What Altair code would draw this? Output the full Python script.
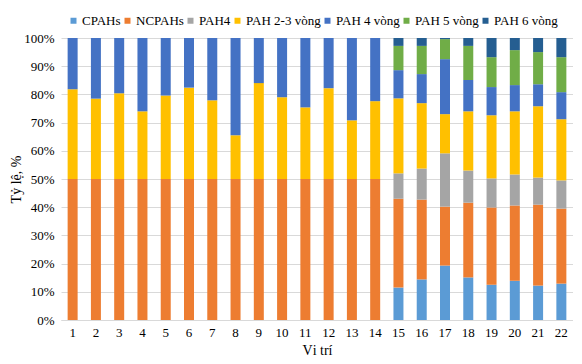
import altair as alt
import pandas as pd

positions = [str(i) for i in range(1, 23)]
series = ["CPAHs", "NCPAHs", "PAH4", "PAH 2-3 vòng", "PAH 4 vòng", "PAH 5 vòng", "PAH 6 vòng"]
colors = ["#5B9BD5", "#ED7D31", "#A5A5A5", "#FFC000", "#4472C4", "#70AD47", "#255E91"]

# segment shares in percent, per position
cpahs = [0]*14 + [11.5, 14.4, 19.3, 15.1, 12.5, 13.9, 12.2, 12.9]
ncpahs = [50]*14 + [31.5, 28.3, 20.9, 26.5, 27.4, 26.7, 28.7, 26.6]
pah4 = [0]*14 + [9.0, 11.0, 18.9, 11.4, 10.3, 11.0, 9.6, 10.0]
pah23 = [31.8, 28.5, 30.4, 24.0, 29.6, 32.4, 27.9, 15.5, 34.0, 29.0, 25.4, 32.2, 20.8, 27.6,
         26.6, 23.2, 13.9, 21.0, 22.4, 22.4, 25.3, 21.7]
pah4v = [18.2, 21.5, 19.6, 26.0, 20.4, 17.6, 22.1, 34.5, 16.0, 21.0, 24.6, 17.8, 29.2, 22.4,
         10.0, 10.3, 19.5, 11.1, 10.0, 9.3, 7.8, 9.6]
pah5v = [0]*14 + [8.6, 10.0, 7.1, 12.1, 10.6, 12.4, 11.4, 12.4]
pah6v = [0]*14 + [2.8, 2.8, 0.4, 2.8, 6.8, 4.3, 5.0, 6.8]

values = [cpahs, ncpahs, pah4, pah23, pah4v, pah5v, pah6v]
rows = []
for si, (name, vals) in enumerate(zip(series, values)):
    for p, v in zip(positions, vals):
        rows.append({"pos": p, "series": name, "order": si, "value": v / 100.0})
df = pd.DataFrame(rows)

font = "Liberation Serif"

chart = alt.Chart(df).mark_bar(size=10).encode(
    x=alt.X("pos:N", sort=positions, title="Vị trí",
            axis=alt.Axis(labelAngle=0, ticks=False, domainColor="#D9D9D9",
                          labelFontSize=13, titleFontSize=14, labelFont=font, titleFont=font,
                          labelColor="#000", titleColor="#000", titleFontWeight="normal",
                          labelPadding=6, titlePadding=4)),
    y=alt.Y("value:Q", stack="zero", title="Tỷ lệ, %",
            scale=alt.Scale(domain=[0, 1], nice=False),
            axis=alt.Axis(format=".0%", values=[i / 10 for i in range(11)], ticks=False,
                          domain=False, gridColor="#D9D9D9", labelFontSize=13,
                          titleFontSize=14, labelFont=font, titleFont=font,
                          labelColor="#000", titleColor="#000", titleFontWeight="normal",
                          labelPadding=7, titlePadding=0)),
    color=alt.Color("series:N", scale=alt.Scale(domain=series, range=colors),
                    legend=alt.Legend(title=None, orient="none", direction="horizontal",
                                      legendX=6, legendY=-24, padding=0,
                                      symbolType="square", symbolSize=36,
                                      symbolStrokeWidth=0, labelFont=font,
                                      labelFontSize=13, labelColor="#000",
                                      labelOffset=2, columnPadding=-5)),
    order=alt.Order("order:Q"),
).properties(
    width=512, height=282,
    autosize=alt.AutoSizeParams(type="none"),
    padding={"left": 53, "top": 30, "right": 0, "bottom": 36},
).configure_view(stroke=None)

chart.save("out.html", embed_options={"renderer": "svg", "actions": False})
